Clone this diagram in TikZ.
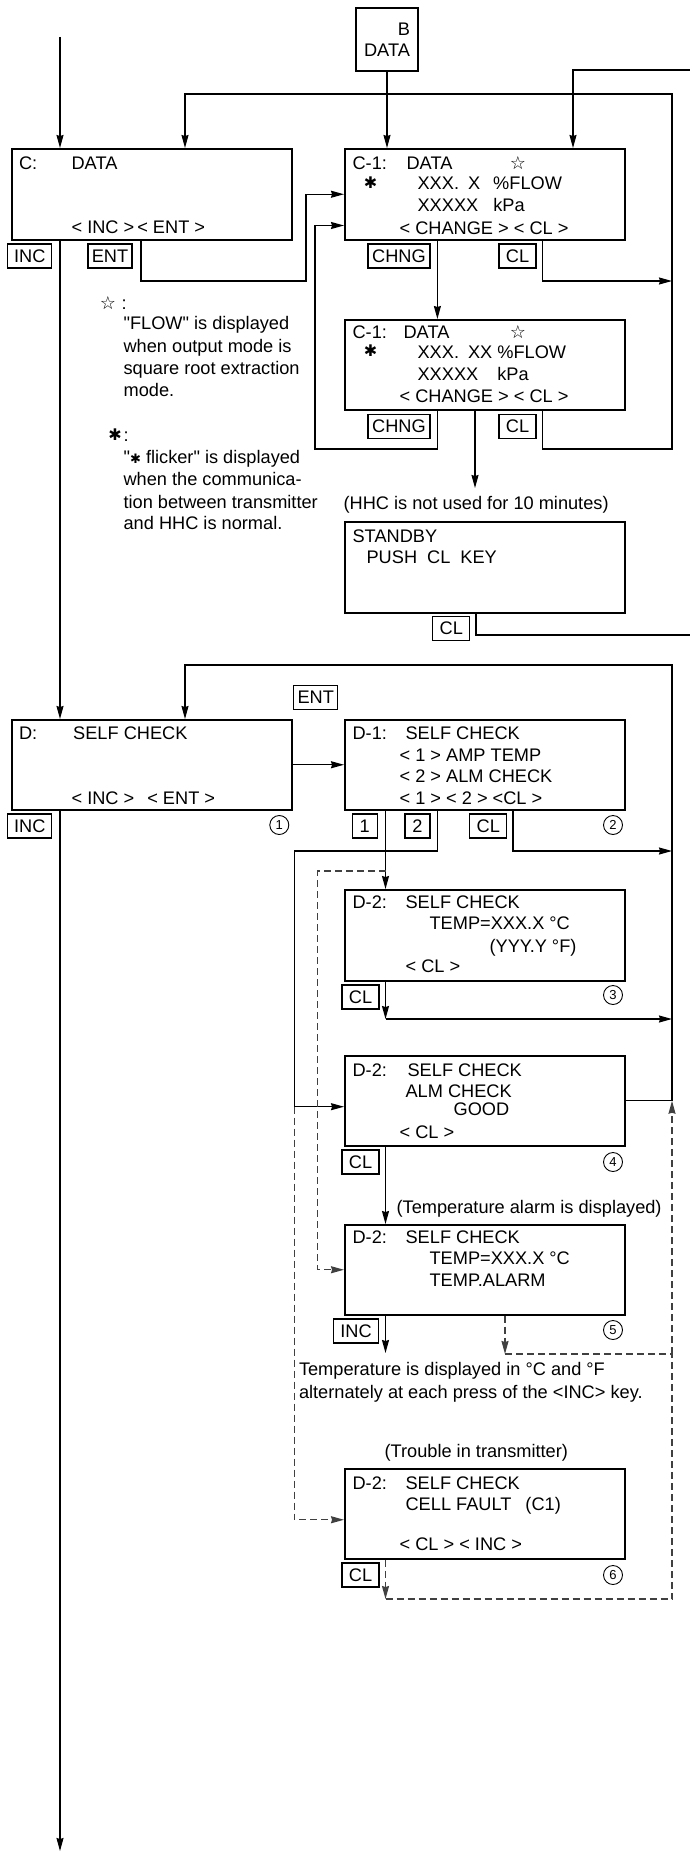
\documentclass[tikz,border=0pt]{standalone}
\usepackage{fontspec}
\setmainfont{Liberation Sans}
\newfontfamily\symfont{DejaVu Sans}
\usetikzlibrary{arrows.meta}

\tikzset{
  screen/.style={draw, line width=1.5pt, anchor=north west, inner sep=0pt, minimum width=280pt},
  key/.style={draw, line width=1.2pt, minimum height=24pt, minimum width=37pt, inner sep=0pt},
  txt/.style={anchor=base west, inner sep=0pt},
  num/.style={draw, circle, line width=0.9pt, minimum size=19pt, inner sep=0pt, font=\fontsize{13}{13}\selectfont},
  glyph/.style={inner sep=0pt, font=\symfont\fontsize{18}{18}\selectfont},
  arr/.style={-{Stealth[length=13pt,width=7pt,inset=1pt]}},
  dsh/.style={dash pattern=on 7pt off 4pt, draw=black!75},
}

\begin{document}
\begin{tikzpicture}[x=1pt, y=-1pt, line width=1.2pt, font=\fontsize{18.2}{21.5}\selectfont]
    \useasboundingbox (0,0) rectangle (690,1852);

    \node[draw, line width=1.5pt, minimum width=62pt, minimum height=63pt, align=right, inner sep=0pt] (b) at (387,39.5) {B\\DATA};

    \node[screen, minimum height=91pt] (c) at (11,148) {};
    \node[screen, minimum height=91pt] (c1a) at (344,148) {};
    \node[screen, minimum height=90pt] (c1b) at (344,319) {};
    \node[screen, minimum height=91pt] (stby) at (344,521) {};
    \node[screen, minimum height=90pt] (d) at (11,719) {};
    \node[screen, minimum height=90pt] (d1) at (344,719) {};
    \node[screen, minimum height=91pt] (d2a) at (344,889) {};
    \node[screen, minimum height=90pt] (d2b) at (344,1055) {};
    \node[screen, minimum height=90pt] (d2c) at (344,1224) {};
    \node[screen, minimum height=90pt] (d2d) at (344,1468) {};

    \node[txt] (ct1) at (18.5,169.5) {C:};
    \node[txt] (ct2) at (71,169.5) {DATA};
    \node[txt] (ct3) at (71,233.5) {< INC >\hspace{3pt}< ENT >};

    \node[txt] (c1at1) at (352,169.5) {C-1:};
    \node[txt] (c1at2) at (406,169.5) {DATA};
    \node[glyph] (c1astar) at (518,163) {☆};
    \node[glyph, font=\symfont\fontsize{16}{16}\selectfont] (c1aast) at (370.5,182.7) {✱};
    \node[txt] (c1at3) at (417,189.5) {XXX.\hspace{9pt}X\hspace{13pt}\%FLOW};
    \node[txt] (c1at4) at (417,211.5) {XXXXX\hspace{15pt}kPa};
    \node[txt] (c1at5) at (399,234.5) {< CHANGE > < CL >};

    \node[txt] (c1bt1) at (352,338) {C-1:};
    \node[txt] (c1bt2) at (403,338) {DATA};
    \node[glyph] (c1bstar) at (518,331.7) {☆};
    \node[glyph, font=\symfont\fontsize{16}{16}\selectfont] (c1bast) at (370.5,351) {✱};
    \node[txt] (c1bt3) at (417,358) {XXX.\hspace{9pt}XX\hspace{5pt}\%FLOW};
    \node[txt] (c1bt4) at (417,380.6) {XXXXX\hspace{19pt}kPa};
    \node[txt] (c1bt5) at (399,402.3) {< CHANGE > < CL >};

    \node[glyph] (nstar) at (108,303) {☆};
    \node[txt] (nstarc) at (121,309.3) {:};
    \node[txt] (n1a) at (123,329.6) {\textquotedbl FLOW\textquotedbl{} is displayed};
    \node[txt] (n1b) at (123,352) {when output mode is};
    \node[txt] (n1c) at (123,374.6) {square root extraction};
    \node[txt] (n1d) at (123,396.3) {mode.};
    \node[glyph, font=\symfont\fontsize{16}{16}\selectfont] (nast) at (115,435) {✱};
    \node[txt] (nastc) at (123,441.3) {:};
    \node[txt] (n2a) at (123,463) {\textquotedbl{\symfont\fontsize{13}{13}\selectfont ✱} flicker\textquotedbl{} is displayed};
    \node[txt] (n2b) at (123,485.6) {when the communica-};
    \node[txt] (n2c) at (123,508) {tion between transmitter};
    \node[txt] (n2d) at (123,529.6) {and HHC is normal.};

    \node[txt] (hhct) at (343,509) {(HHC is not used for 10 minutes)};
    \node[txt] (stbyt1) at (352,542.5) {STANDBY};
    \node[txt] (stbyt2) at (366,563) {PUSH\hspace{10pt}CL\hspace{10pt}KEY};

    \node[txt] (dt1) at (18.5,739.5) {D:};
    \node[txt] (dt2) at (72.6,739.5) {SELF CHECK};
    \node[txt] (dt3) at (71,804) {< INC >\hspace{13pt}< ENT >};

    \node[txt] (d1t1) at (352,739.5) {D-1:};
    \node[txt] (d1t2) at (405,739.5) {SELF CHECK};
    \node[txt] (d1t3) at (399,761.5) {< 1 > AMP TEMP};
    \node[txt] (d1t4) at (399,782.5) {< 2 > ALM CHECK};
    \node[txt] (d1t5) at (399,804.5) {< 1 > < 2 > <CL >};

    \node[txt] (d2at1) at (352,908) {D-2:};
    \node[txt] (d2at2) at (405,908) {SELF CHECK};
    \node[txt] (d2at3) at (429,929) {TEMP=XXX.X °C};
    \node[txt] (d2at4) at (489,952.3) {(YYY.Y °F)};
    \node[txt] (d2at5) at (405,972) {< CL >};

    \node[txt] (d2bt1) at (352,1076.5) {D-2:};
    \node[txt] (d2bt2) at (407,1076.5) {SELF CHECK};
    \node[txt] (d2bt3) at (405,1097) {ALM CHECK};
    \node[txt] (d2bt4) at (453,1115.5) {GOOD};
    \node[txt] (d2bt5) at (399,1138) {< CL >};

    \node[txt] (alarmt) at (396,1213.6) {(Temperature alarm is displayed)};
    \node[txt] (d2ct1) at (352,1243) {D-2:};
    \node[txt] (d2ct2) at (405,1243) {SELF CHECK};
    \node[txt] (d2ct3) at (429,1264.6) {TEMP=XXX.X °C};
    \node[txt] (d2ct4) at (429,1286.5) {TEMP.ALARM};

    \node[txt] (tempa) at (298.4,1375.3) {Temperature is displayed in °C and °F};
    \node[txt] (tempb) at (298.4,1398.6) {alternately at each press of the <INC> key.};

    \node[txt] (troublet) at (384,1457.3) {(Trouble in transmitter)};
    \node[txt] (d2dt1) at (352,1489.6) {D-2:};
    \node[txt] (d2dt2) at (405,1489.6) {SELF CHECK};
    \node[txt] (d2dt3) at (405,1510.3) {CELL FAULT\hspace{14pt}(C1)};
    \node[txt] (d2dt4) at (399,1550.3) {< CL > < INC >};

    \node[key, minimum width=44pt] (kinc1) at (29.75,256) {INC};
    \node[key, minimum width=44pt] (kent1) at (110,256) {ENT};
    \node[key, minimum width=62pt] (kchng1) at (399,256) {CHNG};
    \node[key] (kcl1) at (517.5,256) {CL};
    \node[key, minimum width=62pt] (kchng2) at (399,426.5) {CHNG};
    \node[key] (kcl2) at (517.5,426.5) {CL};
    \node[key] (kcl3) at (451.3,628.7) {CL};
    \node[key, minimum width=44pt] (kent2) at (315.75,697.5) {ENT};
    \node[key, minimum width=44pt] (kinc2) at (29.75,826) {INC};
    \node[key, minimum width=25pt] (kone) at (364.75,826) {1};
    \node[key, minimum width=25pt] (ktwo) at (417.5,826) {2};
    \node[key] (kcl4) at (488.25,826) {CL};
    \node[key] (kcl5) at (360.5,997) {CL};
    \node[key] (kcl6) at (360.5,1162) {CL};
    \node[key, minimum width=45pt] (kinc3) at (356,1331) {INC};
    \node[key] (kcl7) at (360.5,1575) {CL};

    \node[num] (no1) at (279.3,825) {1};
    \node[num] (no2) at (613,825) {2};
    \node[num] (no3) at (613,995) {3};
    \node[num] (no4) at (613,1162) {4};
    \node[num] (no5) at (613,1330) {5};
    \node[num] (no6) at (613,1575) {6};

    \coordinate (in) at (60,37);
    \coordinate (tr) at (690,70);
    \coordinate (rc) at (672,94);
    \coordinate (rcb) at (672,449);
    \coordinate (cl1) at (672,281);
    \coordinate (ent) at (306,281);
    \coordinate (chg) at (315,449);
    \coordinate (hhc) at (475,488);
    \coordinate (stbyout) at (690,635);
    \coordinate (rd) at (672,665);
    \coordinate (dcl) at (672,851);
    \coordinate (alm) at (294.4,851);
    \coordinate (almb) at (294.4,1106.7);
    \coordinate (t1) at (385.5,1019);
    \coordinate (dsha) at (385.5,871);
    \coordinate (dshb) at (317.7,871);
    \coordinate (t2) at (385.5,1353);
    \coordinate (t4) at (505,1354);
    \coordinate (rdash) at (672,1354);
    \coordinate (t3) at (385.5,1599);
    \coordinate (out) at (60,1851);

    \draw[arr] (in) -- (in |- c.north);
    \draw[arr] (b.south) -- (b.south |- c1a.north);
    \draw[arr] (tr) -| ([xshift=229pt]c1a.north west);
    \draw[arr] ([xshift=198.6pt]c1b.south west) |- (rcb) -- (rc) -| ([xshift=174pt]c.north west);
    \draw[arr] ([xshift=198.6pt]c1a.south west) |- (cl1);
    \draw[arr] ([xshift=130pt]c.south west) |- (ent) |- (c1a.west);
    \draw[arr] ([xshift=93.4pt]c1b.south west) |- (chg) |- ([yshift=15pt]c1a.south west);
    \draw[arr] ([xshift=93.4pt]c1a.south west) -- ([xshift=93.4pt]c1b.north west);
    \draw[arr] ([xshift=131pt]c1b.south west) -- (hhc);
    \draw ([xshift=132pt]stby.south west) |- (stbyout);
    \draw[arr] (d2b.east) -| (rd) -| ([xshift=174pt]d.north west);
    \draw[arr] ([xshift=49pt]c.south west) -- ([xshift=49pt]d.north west);
    \draw[arr] ([xshift=49pt]d.south west) -- (out);
    \draw[arr] (d.east) -- (d1.west);
    \draw[arr] ([xshift=41.5pt]d1.south west) -- ([xshift=41.5pt]d2a.north west);
    \draw ([xshift=93.4pt]d1.south west) |- (alm) -- (almb);
    \draw[arr] (almb) -- (almb -| d2b.west);
    \draw[arr] ([xshift=169pt]d1.south west) |- (dcl);
    \draw[arr] ([xshift=41.5pt]d2a.south west) -- (t1);
    \draw[arr] (t1) -- (t1 -| rd);
    \draw[arr] ([xshift=41.5pt]d2b.south west) -- ([xshift=41.5pt]d2c.north west);
    \draw[arr] ([xshift=41.5pt]d2c.south west) -- (t2);
    \draw[dsh,arr] (dsha) -- (dshb) |- (d2c.west);
    \draw[dsh,arr] (almb) |- ([yshift=-6pt]d2d.west);
    \draw[dsh,arr] ([xshift=161pt]d2c.south west) -- (t4);
    \draw[dsh] (t4) -- (rdash);
    \draw[dsh,arr] ([xshift=41.5pt]d2d.south west) -- (t3);
    \draw[dsh] (t3) -| (rdash);
    \draw[dsh,arr] (rdash) -- (rdash |- d2b.east);
\end{tikzpicture}
\end{document}
